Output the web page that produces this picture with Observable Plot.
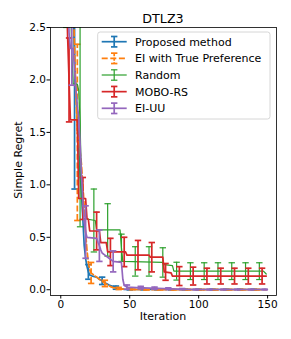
<!DOCTYPE html>
<html><head><meta charset="utf-8">
<script src="https://cdn.jsdelivr.net/npm/d3@7"></script>
<script src="https://cdn.jsdelivr.net/npm/@observablehq/plot@0.6"></script>
<style>
html,body{margin:0;padding:0;background:#fff;}
#chart{width:291px;height:339px;}
svg{display:block;}
</style></head><body><div id="chart"></div>
<script>
const titleText = "DTLZ3";
const xLabel = "Iteration";
const yLabel = "Simple Regret";
const xTicks = [0, 50, 100, 150];
const yTicks = [0, 0.5, 1.0, 1.5, 2.0, 2.5];

const seriesNames = ["Proposed method", "EI with True Preference", "Random", "MOBO-RS", "EI-UU"];
const seriesColors = ["#1f77b4", "#ff7f0e", "#2ca02c", "#d62728", "#9467bd"];

// mean curves (iteration, simple regret)
const proposedIter = [0, 7, 8, 9, 10, 11, 12, 13, 14, 15, 16, 17, 18, 19, 20, 21, 23, 26, 28, 30, 33, 35, 38, 40, 43, 46, 50, 149];
const proposedVal  = [6, 4, 3.2, 2.7, 2.2, 1.9, 1.65, 1.35, 1.1, 0.92, 0.68, 0.42, 0.3, 0.22, 0.17, 0.14, 0.13, 0.12, 0.1, 0.085, 0.06, 0.045, 0.03, 0.02, 0.01, 0.004, 0.002, 0.002];

const eiTrueIter = [0, 8, 9, 10, 11, 12, 13, 14, 15, 16, 17, 18, 19, 20, 21, 22, 24, 26, 28, 30, 32, 34, 36, 38, 41, 45, 50, 60, 149];
const eiTrueVal  = [6, 3.5, 2.8, 2.3, 1.85, 1.5, 1.4, 1.32, 1.2, 1.0, 0.8, 0.55, 0.38, 0.26, 0.19, 0.16, 0.14, 0.12, 0.1, 0.08, 0.06, 0.045, 0.03, 0.02, 0.012, 0.006, 0.003, 0.001, 0.001];

const randomIter = [0, 6, 7, 8, 9, 12, 13, 14, 15, 16, 25, 26, 43, 44, 45, 74, 75, 81, 82, 147, 149];
const randomVal  = [6, 3.5, 2.8, 2.25, 1.96, 1.96, 1.9, 1.6, 1.0, 0.68, 0.66, 0.57, 0.57, 0.4, 0.27, 0.26, 0.24, 0.23, 0.177, 0.177, 0.15];

const moboIter = [0, 4, 5, 6, 7, 12, 13, 18, 19, 20, 21, 28, 29, 33, 34, 47, 48, 64, 65, 74, 75, 80, 81, 149];
const moboVal  = [6, 2.9, 2.4, 2.0, 1.62, 1.62, 0.87, 0.87, 0.68, 0.67, 0.56, 0.56, 0.45, 0.45, 0.36, 0.36, 0.33, 0.33, 0.31, 0.31, 0.17, 0.16, 0.13, 0.13];

const eiuuIter = [0, 5, 6, 7, 9, 10, 11, 12, 13, 14, 15, 16, 17, 18, 19, 26, 27, 28, 29, 30, 32, 35, 38, 44, 45, 46, 48, 55, 65, 75, 85, 95, 149];
const eiuuVal  = [6, 2.9, 2.45, 2.3, 2.3, 2.1, 1.9, 1.75, 1.65, 1.4, 1.1, 0.85, 0.65, 0.55, 0.5, 0.49, 0.45, 0.42, 0.38, 0.35, 0.33, 0.3, 0.27, 0.26, 0.1, 0.04, 0.025, 0.02, 0.015, 0.01, 0.006, 0.002, 0.002];

// error bars (every 10th iteration, offset per method)
const proposedBarIter = [0, 10, 20, 30, 40, 50, 60, 70, 80, 90, 100, 110, 120, 130, 140];
const proposedBarMean = [6, 2.2, 0.17, 0.085, 0.02, 0.002, 0.002, 0.002, 0.002, 0.002, 0.002, 0.002, 0.002, 0.002, 0.002];
const proposedBarStd  = [2.5, 1.24, 0.07, 0.035, 0.015, 0.003, 0.002, 0.002, 0.002, 0.002, 0.002, 0.002, 0.002, 0.002, 0.002];

const eiTrueBarIter = [2, 12, 22, 32, 42, 52, 62, 72, 82, 92, 102, 112, 122, 132, 142];
const eiTrueBarMean = [6, 1.5, 0.16, 0.06, 0.012, 0.003, 0.001, 0.001, 0.001, 0.001, 0.001, 0.001, 0.001, 0.001, 0.001];
const eiTrueBarStd  = [2.5, 0.84, 0.1, 0.03, 0.01, 0.003, 0.001, 0.001, 0.001, 0.001, 0.001, 0.001, 0.001, 0.001, 0.001];

const randomBarIter = [4, 14, 24, 34, 44, 54, 64, 74, 84, 94, 104, 114, 124, 134, 144];
const randomBarMean = [4.5, 1.6, 0.66, 0.57, 0.4, 0.27, 0.27, 0.26, 0.177, 0.177, 0.177, 0.177, 0.177, 0.177, 0.177];
const randomBarStd  = [2, 1.0, 0.3, 0.25, 0.13, 0.14, 0.14, 0.14, 0.085, 0.08, 0.08, 0.08, 0.08, 0.08, 0.08];

const moboBarIter = [6, 16, 26, 36, 46, 56, 66, 76, 86, 96, 106, 116, 126, 136, 146];
const moboBarMean = [2.0, 0.87, 0.56, 0.36, 0.36, 0.33, 0.31, 0.17, 0.13, 0.13, 0.13, 0.13, 0.13, 0.13, 0.13];
const moboBarStd  = [0.4, 0.2, 0.18, 0.13, 0.14, 0.14, 0.14, 0.08, 0.09, 0.085, 0.075, 0.075, 0.075, 0.075, 0.075];

const eiuuBarIter = [8, 18, 28, 38, 48, 58, 68, 78, 88, 98, 108, 118, 128, 138, 148];
const eiuuBarMean = [2.3, 0.55, 0.42, 0.27, 0.025, 0.02, 0.015, 0.01, 0.006, 0.002, 0.002, 0.002, 0.002, 0.002, 0.002];
const eiuuBarStd  = [0.35, 0.25, 0.15, 0.1, 0.02, 0.012, 0.01, 0.008, 0.005, 0.003, 0.002, 0.002, 0.002, 0.002, 0.002];

const curves = [
  [proposedIter, proposedVal], [eiTrueIter, eiTrueVal], [randomIter, randomVal], [moboIter, moboVal], [eiuuIter, eiuuVal]
];
const barSets = [
  [proposedBarIter, proposedBarMean, proposedBarStd],
  [eiTrueBarIter, eiTrueBarMean, eiTrueBarStd],
  [randomBarIter, randomBarMean, randomBarStd],
  [moboBarIter, moboBarMean, moboBarStd],
  [eiuuBarIter, eiuuBarMean, eiuuBarStd]
];
const widths = [1.7, 1.7, 1.2, 1.7, 1.7];
const dashes = [null, "6,2.6", null, null, null];

const capSymbol = {
  draw(context, size) {
    const w = 3.2;
    context.moveTo(-w, 0);
    context.lineTo(w, 0);
  }
};

const marks = [];
seriesNames.forEach((name, k) => {
  const [it, v] = curves[k];
  const lineData = it.map((x, j) => ({x, y: v[j]}));
  const [bi, bm, bs] = barSets[k];
  const bars = bi.map((x, j) => ({x, lo: bm[j] - bs[j], hi: bm[j] + bs[j]}));
  const caps = bars.flatMap(b => [{x: b.x, y: b.lo}, {x: b.x, y: b.hi}]);
  marks.push(Plot.line(lineData, {x: "x", y: "y", stroke: seriesColors[k], strokeWidth: widths[k], strokeDasharray: dashes[k], strokeLinejoin: "round", clip: true}));
  marks.push(Plot.ruleX(bars, {x: "x", y1: "lo", y2: "hi", stroke: seriesColors[k], strokeWidth: widths[k], strokeDasharray: dashes[k], clip: true}));
  marks.push(Plot.dot(caps, {x: "x", y: "y", symbol: capSymbol, r: 3, stroke: seriesColors[k], strokeWidth: widths[k], fill: "none", clip: true}));
});

const plot = Plot.plot({
  width: 291, height: 339,
  marginLeft: 50, marginRight: 15, marginTop: 27, marginBottom: 44,
  style: {fontFamily: "DejaVu Sans", fontSize: "10.5px", color: "black", background: "white", overflow: "visible"},
  x: {domain: [-7.45, 156.45]},
  y: {domain: [-0.055, 2.5]},
  marks: [
    ...marks,
    Plot.frame({stroke: "black", strokeWidth: 0.8}),
    Plot.axisX({ticks: xTicks, tickSize: 3.5, tickPadding: 2, label: null, tickFormat: d3.format("d")}),
    Plot.axisY({ticks: yTicks, tickSize: 3.5, tickPadding: 1, label: null, tickFormat: d3.format(".1f")})
  ]
});
document.getElementById("chart").appendChild(plot);

const svg = d3.select(plot);
const font = "DejaVu Sans";
svg.append("text").attr("x", 163).attr("y", 23.3).attr("text-anchor", "middle")
  .attr("font-family", font).attr("font-size", 12.7).attr("fill", "black").text(titleText);
svg.append("text").attr("x", 163).attr("y", 319.7).attr("text-anchor", "middle")
  .attr("font-family", font).attr("font-size", 11).attr("fill", "black").text(xLabel);
svg.append("text").attr("transform", "translate(22,160) rotate(-90)").attr("text-anchor", "middle")
  .attr("font-family", font).attr("font-size", 11).attr("fill", "black").text(yLabel);

// legend
const lg = svg.append("g");
lg.append("rect").attr("x", 97.7).attr("y", 32).attr("width", 172.3).attr("height", 87)
  .attr("rx", 2.5).attr("fill", "white").attr("fill-opacity", 0.8).attr("stroke", "#cccccc").attr("stroke-width", 0.8);
seriesNames.forEach((name, k) => {
  const y = 41.7 + k * 16.65;
  const g = lg.append("g").attr("stroke", seriesColors[k]).attr("stroke-width", widths[k]).attr("fill", "none");
  g.append("line").attr("x1", 101.7).attr("x2", 126.7).attr("y1", y).attr("y2", y).attr("stroke-dasharray", dashes[k]);
  g.append("line").attr("x1", 114.2).attr("x2", 114.2).attr("y1", y - 5.2).attr("y2", y + 5.2).attr("stroke-dasharray", dashes[k] ? "3,1.5" : null);
  g.append("line").attr("x1", 111).attr("x2", 117.4).attr("y1", y - 5.2).attr("y2", y - 5.2);
  g.append("line").attr("x1", 111).attr("x2", 117.4).attr("y1", y + 5.2).attr("y2", y + 5.2);
  lg.append("text").attr("x", 135).attr("y", y).attr("dy", "0.36em").attr("text-anchor", "start").attr("font-family", font)
    .attr("font-size", 11).attr("fill", "black").text(name);
});
</script></body></html>
